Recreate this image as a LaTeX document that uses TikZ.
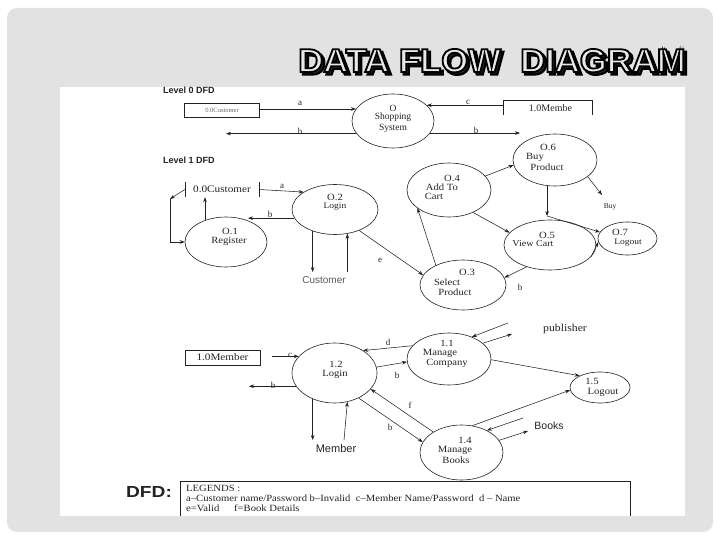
\documentclass[tikz,border=0pt]{standalone}
\usepackage{fontspec}
\setmainfont{Liberation Serif}
\setsansfont{Liberation Sans}
\newfontfamily\wideserif[FakeStretch=1.12]{Liberation Serif}
\newfontfamily\widesans[FakeStretch=1.2]{Liberation Sans}
\usetikzlibrary{shapes.geometric,arrows.meta}
\definecolor{slidebg}{RGB}{226,226,226}
\definecolor{ink}{RGB}{35,35,35}
\newcommand{\dfdtitle}{DATA FLOW\ \ DIAGRAM}
\newcommand{\outlined}[2]{\special{pdf:literal direct q 2 Tr #1 w 0 0 0 RG}#2\special{pdf:literal direct Q}}
\begin{document}
\begin{tikzpicture}[x=1pt,y=-1pt,
  proc/.style={draw=ink, line width=0.6pt, ellipse, inner sep=0pt},
  ptxt/.style={font=\wideserif\fontsize{9.5}{10}\selectfont, text=ink, inner sep=0pt},
  ztxt/.style={font=\fontsize{9.5}{10}\selectfont, text=ink, inner sep=0pt},
  elbl/.style={font=\fontsize{9}{10}\selectfont, text=ink, inner sep=0pt},
  stxt/.style={font=\sffamily\fontsize{10}{10}\selectfont, text=ink, inner sep=0pt},
  legt/.style={font=\wideserif\fontsize{9.5}{10}\selectfont, text=ink, inner sep=0pt, anchor=west},
  flow/.style={draw=ink, line width=0.55pt, -{Stealth[length=5pt,width=3.6pt]}},
  plain/.style={draw=ink, line width=0.6pt},
  ttl/.style={font=\sffamily\bfseries\fontsize{33}{33}\selectfont, anchor=base west, inner sep=0pt}
]
% background
\fill[white] (0,0) rectangle (720,540);
\useasboundingbox (0,0) rectangle (720,540);
\fill[slidebg, rounded corners=10pt] (7,8) rectangle (713,532);
\fill[white] (60,87) rectangle (685,516);

% title: shadow + outlined light letters
\node[ttl, text=black!85] (titleshadow) at (300.5,74.5) {\outlined{2.2}{\scalebox{1.05}[1]{\dfdtitle}}};
\node[ttl, text=white!82!gray] (title) at (298,72) {\outlined{1.8}{\scalebox{1.05}[1]{\dfdtitle}}};

% ---------- Level 0 ----------
\node[stxt, font=\sffamily\bfseries\fontsize{9}{10}\selectfont, anchor=west] (lvl0) at (163,90) {Level 0 DFD};
\node[plain, draw, minimum width=75pt, minimum height=14pt, inner sep=0pt,
      font=\fontsize{6.5}{7}\selectfont, text=black!60] (cust0) at (222,110.5) {0.0Customer};
\node[proc, minimum width=82pt, minimum height=54pt] (sys0) at (393,121) {};
\node[ztxt] (sys0a) at (393,108) {O};
\node[ztxt] (sys0b) at (393,117.5) {Shopping};
\node[ztxt] (sys0c) at (393,128) {System};
\node[minimum width=89pt, minimum height=14pt, inner sep=0pt, font=\fontsize{10}{10}\selectfont, text=ink] (mem0) at (547.5,108) {\hspace{6pt}1.0Membe};
\draw[plain] (mem0.south west) -- (mem0.north west) -- (mem0.north east) -- (mem0.south east);
\coordinate (b0l) at (226,134);
\coordinate (b0r) at (520,133);
\draw[flow] (sys0.162 -| cust0.east) -- (sys0.162);
\draw[flow] (sys0.199) -- (sys0.199 -| b0l);
\draw[flow] (sys0.25 -| mem0.west) -- (sys0.25);
\draw[flow] (sys0.342) -- (sys0.342 -| b0r);
\node[elbl] (la0) at (300,103) {a};
\node[elbl] (lb0) at (300,131) {b};
\node[elbl] (lc0) at (468,102) {c};
\node[elbl] (lb0r) at (476,130) {b};

% ---------- Level 1 ----------
\node[stxt, font=\sffamily\bfseries\fontsize{9}{10}\selectfont, anchor=west] (lvl1) at (163,160) {Level 1 DFD};
\node[minimum width=74pt, minimum height=15pt, inner sep=0pt, font=\wideserif\fontsize{10}{10}\selectfont, text=ink] (cust1) at (222,189.5) {0.0Customer};
\draw[plain] (cust1.north west) -- (cust1.south west);
\draw[plain] (cust1.north east) -- (cust1.south east);

\node[proc, minimum width=86pt, minimum height=50pt] (o2) at (335,209.5) {};
\node[ptxt] (o2a) at (335,197.5) {O.2};
\node[ptxt, font=\wideserif\fontsize{8.5}{9}\selectfont] (o2b) at (335,206.5) {Login};
\node[proc, minimum width=82pt, minimum height=50pt] (o1) at (226,242) {};
\node[ptxt] (o1a) at (230,231.5) {O.1};
\node[ptxt] (o1b) at (229,241) {Register};
\node[proc, minimum width=86pt, minimum height=50pt] (o3) at (463,285) {};
\node[ptxt] (o3a) at (467,272.5) {O.3};
\node[ptxt] (o3b) at (447,282) {Select};
\node[ptxt] (o3c) at (455,292) {Product};
\node[proc, minimum width=84pt, minimum height=54pt] (o4) at (449,190) {};
\node[ptxt] (o4a) at (452,178.5) {O.4};
\node[ptxt] (o4b) at (442,187.5) {Add To};
\node[ptxt] (o4c) at (434,196.5) {Cart};
\node[proc, minimum width=84pt, minimum height=52pt] (o6) at (555,160) {};
\node[ptxt] (o6a) at (548,147.5) {O.6};
\node[ptxt] (o6b) at (535,157.5) {Buy};
\node[ptxt] (o6c) at (547,167) {Product};
\node[proc, minimum width=92pt, minimum height=50pt] (o5) at (550,245) {};
\node[ptxt] (o5a) at (547,235.5) {O.5};
\node[ptxt, font=\wideserif\fontsize{9}{9}\selectfont] (o5b) at (533,244) {View Cart};
\node[proc, minimum width=59pt, minimum height=33pt] (o7) at (627.5,238.5) {};
\node[ptxt] (o7a) at (620,232.5) {O.7};
\node[ptxt, font=\wideserif\fontsize{8.5}{9}\selectfont] (o7b) at (628,243) {Logout};

\coordinate (b1l) at (248,218);
\coordinate (loopc) at (170,199);
\coordinate (cdn) at (313,272);
\coordinate (buyend) at (602,195);
\coordinate (jn) at (547,216);
\draw[flow] (cust1.east) -- (o2.151);
\draw[flow] (o2.192) -- (o2.192 -| b1l);
\draw[flow] (o1.134) -- (o1.134 |- cust1.south);
\draw[flow] (cust1.west) -- (loopc);
\draw[flow] (loopc) -- (loopc |- o1.west) -- (o1.west);
\draw[flow] (o2.224) -- (o2.224 |- cdn);
\draw[flow] (o2.297 |- cdn) -- (o2.297);
\node[stxt, text=black!65] (custl) at (324,280) {Customer};
\draw[flow] (o2.319) -- (o3.166);
\draw[flow] (o3.144) -- (o4.210);
\draw[flow] (o4.21) -- (o6.187);
\draw[flow] (o6.333) -- (buyend);
\node[elbl, font=\fontsize{7.5}{8}\selectfont] (buyl) at (610,207) {Buy};
\draw[flow] (o6.253) -- (o6.253 |- jn);
\draw[flow] (o6.253 |- jn) -- (o7.167);
\draw[flow] (o4.317) -- (o5.163);
\draw[flow] (o5.344) -- (o7.187);
\draw[flow] (o5.223) -- (o3.10);
\node[elbl] (la1) at (282,186) {a};
\node[elbl] (lb1) at (270,214) {b};
\node[elbl] (le1) at (380,260) {e};
\node[elbl] (lb1r) at (520,287) {b};

% ---------- Member part ----------
\node[plain, draw, minimum width=75pt, minimum height=15pt, inner sep=0pt, font=\wideserif\fontsize{10}{10}\selectfont, text=ink] (mem1) at (222.5,357.5) {1.0Member};
\node[proc, minimum width=85pt, minimum height=60pt] (l12) at (334.5,373) {};
\node[ptxt] (l12a) at (336,364.5) {1.2};
\node[ptxt] (l12b) at (335,374) {Login};
\node[proc, minimum width=84pt, minimum height=52pt] (l11) at (449,359) {};
\node[ptxt] (l11a) at (447,343.5) {1.1};
\node[ptxt] (l11b) at (440,353.5) {Manage};
\node[ptxt] (l11c) at (447,363.5) {Company};
\node[proc, minimum width=60pt, minimum height=31pt] (l15) at (600,387.5) {};
\node[ptxt] (l15a) at (592,381.5) {1.5};
\node[ptxt] (l15b) at (603,392) {Logout};
\node[proc, minimum width=83pt, minimum height=55pt] (l14) at (461.5,452.5) {};
\node[ptxt] (l14a) at (465,440.5) {1.4};
\node[ptxt] (l14b) at (455,450.5) {Manage};
\node[ptxt] (l14c) at (456,460.5) {Books};

\coordinate (cst) at (272,358);
\coordinate (b2l) at (249,387);
\coordinate (mdn) at (313,440);
\coordinate (mup) at (344,440);
\coordinate (pin) at (508,323);
\coordinate (pout) at (512,334);
\coordinate (bin) at (523,418);
\coordinate (bout) at (528,431);
\draw[flow] (l12.155 -| cst) -- (l12.155);
\draw[flow] (l12.199) -- (l12.199 -| b2l);
\draw[flow] (l12.230) -- (l12.230 |- mdn);
\draw[flow] (mup) -- (l12.294);
\node[stxt, font=\sffamily\fontsize{11}{11}\selectfont] (meml) at (336,449) {Member};
\draw[flow] (l11.160) -- (l12.38);
\draw[flow] (l12.8) -- (l11.184);
\draw[flow] (pin) -- (l11.44);
\draw[flow] (l11.25) -- (pout);
\node[ptxt, font=\wideserif\fontsize{10.5}{11}\selectfont] (publ) at (565,329) {publisher};
\draw[flow] (l11.359) -- (l15.150);
\draw[flow] (l14.68) -- (l15.185);
\draw[flow] (bin) -- (l14.41);
\draw[flow] (l14.18) -- (bout);
\node[stxt, font=\sffamily\fontsize{10.5}{11}\selectfont] (booksl) at (549,426) {Books};
\draw[flow] (l14.144) -- (l12.336);
\draw[flow] (l12.314) -- (l14.165);
\node[elbl] (lc2) at (290,355) {c};
\node[elbl] (lb2) at (273,385) {b};
\node[elbl] (ld2) at (388,342) {d};
\node[elbl] (lb2r) at (397,375) {b};
\node[elbl] (lf2) at (410,405) {f};
\node[elbl] (lb2d) at (390,427) {b};

% ---------- legend ----------
\node[font=\widesans\bfseries\fontsize{16}{16}\selectfont, text=ink, inner sep=0pt] (dfd) at (149,492) {DFD:};
\node[minimum width=450pt, minimum height=35pt, inner sep=0pt, anchor=north west] (leg) at (180,481) {};
\draw[plain] (leg.south west) -- (leg.north west) -- (leg.north east) -- (leg.south east);
\node[legt] (leg1) at (186,488) {LEGENDS :};
\node[legt] (leg2) at (186,498) {a–Customer name/Password b–Invalid\ \ c–Member Name/Password\ \ d – Name};
\node[legt] (leg3) at (186,508) {e=Valid};
\node[legt] (leg4) at (234,508) {f=Book Details};
\end{tikzpicture}
\end{document}
